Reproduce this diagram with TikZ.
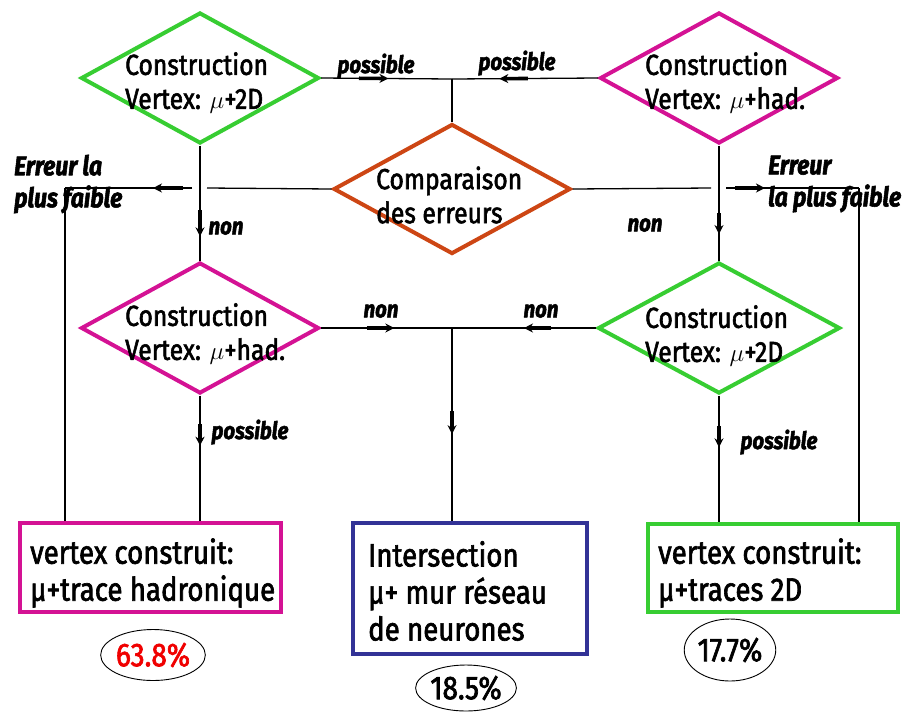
\documentclass[tikz,border=0pt]{standalone}
\usepackage{fontspec}
\setmainfont[FakeStretch=0.85,FakeBold=2]{Fira Sans}
\usetikzlibrary{shapes.geometric,arrows.meta,calc}
\definecolor{cgreen}{RGB}{55,205,50}
\definecolor{cmag}{RGB}{212,18,148}
\definecolor{corange}{RGB}{205,70,20}
\definecolor{cblue}{RGB}{50,50,150}
\definecolor{cred}{RGB}{240,0,0}
\begin{document}
\begin{tikzpicture}[x=1pt,y=-1pt,
  dia/.style={draw,shape=diamond,line width=4pt,minimum width=238pt,minimum height=131pt,inner sep=0pt},
  dtext/.style={font=\fontsize{29}{34}\selectfont,align=left,inner sep=0pt},
  boxn/.style={draw,line width=4pt,inner sep=0pt},
  btext/.style={font=\fontsize{32.5}{37}\selectfont,align=left,inner sep=0pt},
  lab/.style={font=\fontsize{24}{32}\selectfont\bfseries\itshape,inner sep=0pt,align=left},
  errlab/.style={lab,font=\fontsize{27}{32}\selectfont\bfseries\itshape},
  pct/.style={draw,shape=ellipse,line width=0.9pt,inner sep=0pt,font=\fontsize{33}{36}\selectfont},
  conn/.style={line width=1.3pt},
  arrowseg/.style={line width=3.6pt,-{Stealth[length=9pt,width=9pt]}}
]
\useasboundingbox (0,0) rectangle (902,713);

% diamonds
\node[dia,cgreen] (d1) at (200,78) {};
\node[dia,cmag] (d2) at (719,78) {};
\node[dia,corange,minimum width=237pt,minimum height=130pt] (cmp) at (452,189) {};
\node[dia,cmag] (d3) at (200,328) {};
\node[dia,cgreen,minimum width=242pt] (d4) at (719,328) {};

\node[dtext,anchor=west] (d1t) at (125,83) {Construction\\Vertex: $\mu$+2D};
\node[dtext,anchor=west] (d2t) at (645,83) {Construction\\Vertex: $\mu$+had.};
\node[dtext,anchor=west] (cmpt) at (376,195) {Comparaison\\des erreurs};
\node[dtext,anchor=west] (d3t) at (125,334) {Construction\\Vertex: $\mu$+had.};
\node[dtext,anchor=west] (d4t) at (645,336) {Construction\\Vertex: $\mu$+2D};

% boxes
\node[boxn,cmag,minimum width=261pt,minimum height=89pt] (b1) at (150.5,567.5) {};
\node[boxn,cblue,minimum width=234pt,minimum height=131pt] (b2) at (470,588.5) {};
\node[boxn,cgreen,minimum width=250pt,minimum height=88pt] (b3) at (773,568) {};

\node[btext,anchor=west] (b1t) at (30,573) {vertex construit:\\µ+trace hadronique};
\node[btext,anchor=west] (b2t) at (368,591) {Intersection\\µ+ mur réseau\\de neurones};
\node[btext,anchor=west] (b3t) at (658,573) {vertex construit:\\µ+traces 2D};

% percentages
\node[pct,text=cred,minimum width=94pt,minimum height=51pt] (p1) at (153,655) {63.8\%};
\node[pct,minimum width=96pt,minimum height=46pt] (p2) at (466,688) {18.5\%};
\node[pct,minimum width=86pt,minimum height=62pt] (p3) at (730,650) {17.7\%};

% junction coordinates
\coordinate (jtop) at (452,79);
\coordinate (jmid) at (452,328);
\coordinate (gl1) at (192,188);
\coordinate (gr1) at (207,188);
\coordinate (cl) at (65,188);
\coordinate (gl2) at (711,188);
\coordinate (gr2) at (726,188);
\coordinate (cr) at (859,188);

% connectors
\draw[conn] (d1.east) -- (jtop);
\draw[arrowseg] ($(d1.east)!0.29!(jtop)$) -- ($(d1.east)!0.515!(jtop)$);
\draw[conn] (d2.west) -- (jtop);
\draw[arrowseg] ($(d2.west)!0.48!(jtop)$) -- ($(d2.west)!0.676!(jtop)$);
\draw[conn] (jtop) -- (cmp.north);
\draw[conn] (cmp.west) -- (gr1);
\draw[conn] (gl1) -- (cl);
\draw[arrowseg] ($(gl1)!0.07!(cl)$) -- ($(gl1)!0.307!(cl)$);
\draw[conn] (cl) -- (cl |- b1.north);
\draw[conn] (cmp.east) -- (gl2);
\draw[conn] (gr2) -- (cr);
\draw[arrowseg] ($(gr2)!0.068!(cr)$) -- ($(gr2)!0.293!(cr)$);
\draw[conn] (cr) -- (cr |- b3.north);
\draw[conn] (d1.south) -- (d3.north);
\draw[arrowseg] ($(d1.south)!0.56!(d3.north)$) -- ($(d1.south)!0.79!(d3.north)$);
\draw[conn] (d2.south) -- (d4.north);
\draw[arrowseg] ($(d2.south)!0.59!(d4.north)$) -- ($(d2.south)!0.77!(d4.north)$);
\draw[conn] (d3.east) -- (jmid);
\draw[arrowseg] ($(d3.east)!0.35!(jmid)$) -- ($(d3.east)!0.56!(jmid)$);
\draw[conn] (d4.west) -- (jmid);
\draw[arrowseg] ($(d4.west)!0.31!(jmid)$) -- ($(d4.west)!0.5!(jmid)$);
\draw[conn] (jmid) -- (jmid |- b2.north);
\draw[arrowseg] ($(jmid)!0.43!(jmid |- b2.north)$) -- ($(jmid)!0.55!(jmid |- b2.north)$);
\draw[conn] (d3.south) -- (d3.south |- b1.north);
\draw[arrowseg] ($(d3.south)!0.23!(d3.south |- b1.north)$) -- ($(d3.south)!0.4!(d3.south |- b1.north)$);
\draw[conn] (d4.south) -- (d4.south |- b3.north);
\draw[arrowseg] ($(d4.south)!0.24!(d4.south |- b3.north)$) -- ($(d4.south)!0.41!(d4.south |- b3.north)$);

% labels
\node[lab] (l1) at (376,66) {possible};
\node[lab] (l2) at (517,63) {possible};
\node[lab] (l3) at (226,228) {non};
\node[lab] (l4) at (645,225) {non};
\node[lab] (l5) at (381,311) {non};
\node[lab] (l6) at (541,311) {non};
\node[lab] (l7) at (250,432) {possible};
\node[lab] (l8) at (779,442) {possible};
\node[errlab,anchor=west] (e1) at (14,184) {Erreur la\\plus faible};
\node[errlab,anchor=west] (e2) at (768,184) {Erreur\\la plus faible};
\end{tikzpicture}
\end{document}
